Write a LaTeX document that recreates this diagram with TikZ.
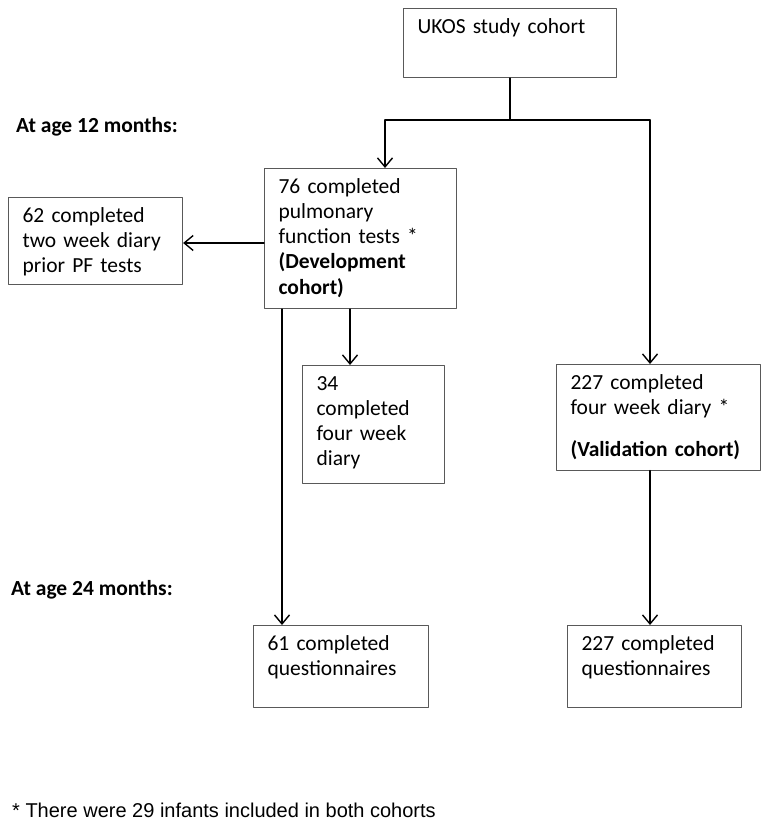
\documentclass[tikz,border=0pt]{standalone}
\usepackage{fontspec}
\setmainfont{Carlito}
\newfontfamily\notefont{Liberation Sans}
\usetikzlibrary{arrows.meta}
\newcommand\bodysize{\fontsize{21.5}{25.3}\selectfont}

\tikzset{
	box/.style={draw=black!65, line width=1.1pt, anchor=north west, align=left,
		inner xsep=14pt, inner ysep=0pt, text height=24.5pt, font=\bodysize},
	link/.style={line width=1.4pt},
	arr/.style={link, -{Straight Barb[length=9pt,width=15pt]}},
	stage/.style={anchor=base west, inner sep=0pt, font=\bodysize\bfseries},
}

\begin{document}
\begin{tikzpicture}[x=1pt, y=-1pt, line join=round, line cap=round]
	\useasboundingbox (0,0) rectangle (764,824);
	
	% boxes
	\node[box, text width=185pt, text depth=44.5pt] (ukos) at (403,8) {UKOS study cohort};
	\node[box, text width=164pt, text depth=115.5pt] (dev) at (264,168)
		{76 completed\\pulmonary\\function tests *\\\textbf{(Development}\\\textbf{cohort)}};
	\node[box, text width=146pt, text depth=62.5pt] (two) at (8,197)
		{62 completed\\two week diary\\prior PF tests};
	\node[box, text width=114pt, text depth=93pt] (four) at (302,365)
		{34\\completed\\four week\\diary};
	\node[box, text width=176pt, text depth=81pt] (val) at (556,364)
		{227 completed\\four week diary *\\[17pt]\textbf{(Validation cohort)}};
	\node[box, text width=147pt, text depth=57.5pt] (qdev) at (253,625)
		{61 completed\\questionnaires};
	\node[box, text width=146pt, text depth=57.5pt] (qval) at (567,625)
		{227 completed\\questionnaires};
	
	% stages and note
	\node[stage] (age12) at (16,132) {At age 12 months:};
	\node[stage] (age24) at (11,595) {At age 24 months:};
	\node[anchor=base west, inner sep=0pt, font=\notefont\fontsize{20}{24}\selectfont] (note) at (12,817)
		{* There were 29 infants included in both cohorts};
	
	% connectors
	\coordinate (forkL) at (385,120);
	\coordinate (forkR) at (650,120);
	\coordinate (devL) at (264,243);
	\coordinate (colA) at (282,0);
	\coordinate (colB) at (350,0);
	\draw[link] (ukos.south) -- (ukos.south |- forkL);
	\draw[link] (forkL) -- (forkR);
	\draw[arr] (forkL) -- (forkL |- dev.north);
	\draw[arr] (forkR) -- (forkR |- val.north);
	\draw[arr] (devL) -- (devL -| two.east);
	\draw[arr] (dev.south -| colB) -- (four.north -| colB);
	\draw[arr] (dev.south -| colA) -- (qdev.north -| colA);
	\draw[arr] (val.south -| forkR) -- (qval.north -| forkR);
	
\end{tikzpicture}
\end{document}
